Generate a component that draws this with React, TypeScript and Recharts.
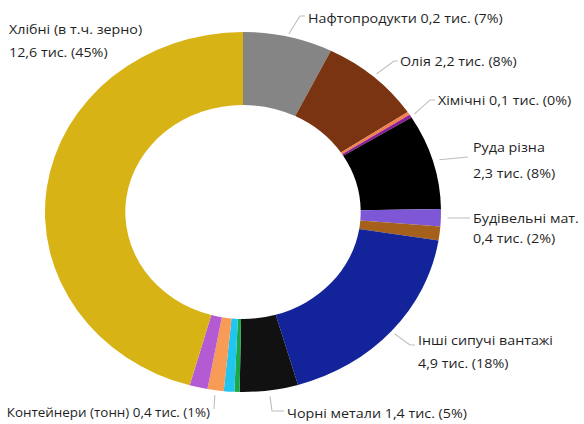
import React from 'react';
import { PieChart, Pie, Cell } from 'recharts';

const categories = [
  'Нафтопродукти',
  'Олія',
  'Інше (а)',
  'Хімічні',
  'Руда різна',
  'Будівельні мат.',
  'Інше (б)',
  'Інші сипучі вантажі',
  'Чорні метали',
  'Інше (в)',
  'Інше (г)',
  'Контейнери (тонн)',
  'Інше (д)',
  'Хлібні (в т.ч. зерно)',
];

const values = [2.05, 2.33, 0.08, 0.08, 2.39, 0.43, 0.35, 5.04, 1.33, 0.12, 0.24, 0.37, 0.41, 12.79];

const colors = [
  '#858585',
  '#7B3412',
  '#F2814E',
  '#8A1F9A',
  '#000000',
  '#7E57D6',
  '#A5611C',
  '#13249A',
  '#111111',
  '#1BA84A',
  '#22C5F0',
  '#F79B57',
  '#B45BD3',
  '#D7B316',
];

const labelTexts: (string[] | null)[] = [
  ['Нафтопродукти 0,2 тис. (7%)'],
  ['Олія 2,2 тис. (8%)'],
  null,
  ['Хімічні 0,1 тис. (0%)'],
  ['Руда різна', '2,3 тис. (8%)'],
  ['Будівельні мат.', '0,4 тис. (2%)'],
  null,
  ['Інші сипучі вантажі', '4,9 тис. (18%)'],
  ['Чорні метали 1,4 тис. (5%)'],
  null,
  null,
  ['Контейнери (тонн) 0,4 тис. (1%)'],
  null,
  ['Хлібні (в т.ч. зерно)', '12,6 тис. (45%)'],
];

const SX = 1.1;
const W = 584 / SX;
const H = 424;
const CX = 243 / SX;
const CY = 212;

type Layout = {
  x: number;
  ys: number[];
  anchor: 'start' | 'end';
  gap: number;
  pts: [number, number][];
  fs?: number;
};

// label placement, image coordinates
const layouts: Record<number, Layout> = {
  0: { x: 308, ys: [18], anchor: 'start', gap: 3, pts: [[300, 16], [305, 16]] },
  1: { x: 400, ys: [61], anchor: 'start', gap: 4, pts: [[394, 61], [398, 61]] },
  3: { x: 438, ys: [100], anchor: 'start', gap: 4, pts: [[430, 100], [435, 100]] },
  4: { x: 473, ys: [147, 173], anchor: 'start', gap: 6, pts: [[468, 157]] },
  5: { x: 473, ys: [218, 238], anchor: 'start', gap: 6, pts: [[470, 218]] },
  7: { x: 418, ys: [340, 363], anchor: 'start', gap: 4, pts: [[410, 345], [415, 345]] },
  8: { x: 287, ys: [413], anchor: 'start', gap: 6, pts: [[272, 411], [284, 411]] },
  11: { x: 210, ys: [412], anchor: 'end', gap: 5, pts: [[214, 409]], fs: 12.2 },
  13: { x: 9, ys: [29, 52], anchor: 'start', gap: 0, pts: [] },
};

const data = categories.map((name, i) => ({ name, value: values[i] }));

const TEXT_COLOR = '#1f1f1f';
const LINE_COLOR = '#BDBDBD';

const renderLabel = (props: any) => {
  const { cx, cy, midAngle, outerRadius, index } = props;
  const lay = layouts[index];
  const lines = labelTexts[index];
  if (!lay || !lines) return null;
  const rad = Math.PI / 180;
  const r = outerRadius + lay.gap;
  const sx = cx + r * Math.cos(-midAngle * rad);
  const sy = cy + r * Math.sin(-midAngle * rad);
  const pts = [[sx, sy], ...lay.pts.map(([px, py]) => [px / SX, py])];
  return (
    <g key={`lbl-${index}`}>
      {lay.pts.length > 0 && (
        <polyline
          points={pts.map((p) => p.join(',')).join(' ')}
          fill="none"
          stroke={LINE_COLOR}
          strokeWidth={1}
        />
      )}
      {lines.map((t, k) => (
        <text
          key={k}
          x={lay.x / SX}
          y={lay.ys[k]}
          textAnchor={lay.anchor}
          dominantBaseline="central"
          fill={TEXT_COLOR}
          fontSize={lay.fs ?? 13}
          fontFamily="'Open Sans', sans-serif"
        >
          {t}
        </text>
      ))}
    </g>
  );
};

export default function App() {
  return (
    <div
      style={{
        position: 'absolute',
        left: 0,
        top: 0,
        width: 584,
        height: 424,
        overflow: 'hidden',
        background: '#ffffff',
      }}
    >
      <div style={{ width: W, height: H, transform: `scaleX(${SX})`, transformOrigin: '0 0' }}>
        <PieChart width={W} height={H} margin={{ top: 0, right: 0, bottom: 0, left: 0 }}>
          <Pie
            data={data}
            dataKey="value"
            nameKey="name"
            cx={CX}
            cy={CY}
            outerRadius={180}
            innerRadius={107}
            startAngle={90}
            endAngle={-270}
            stroke="none"
            label={renderLabel}
            labelLine={false}
            isAnimationActive={false}
          >
            {data.map((d, i) => (
              <Cell key={d.name} fill={colors[i]} stroke="none" />
            ))}
          </Pie>
        </PieChart>
      </div>
    </div>
  );
}
